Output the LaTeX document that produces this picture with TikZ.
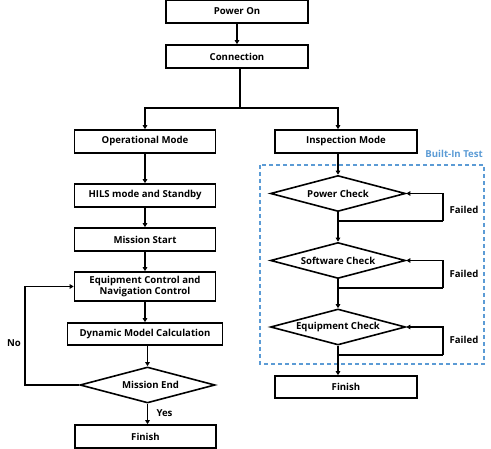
\documentclass[tikz,border=0pt]{standalone}
\usepackage{fontspec}
\setmainfont{Open Sans}
\usetikzlibrary{shapes.geometric,arrows.meta}
\definecolor{bitblue}{RGB}{91,155,213}
\begin{document}
\begin{tikzpicture}[x=1pt,y=-1pt,
  every node/.style={font=\bfseries\fontsize{9.6}{11.5}\selectfont},
  box/.style={draw,line width=1.6pt,minimum height=23pt,inner sep=0pt,align=center},
  dec/.style={draw,diamond,aspect=3.8,line width=1.6pt,minimum width=135pt,minimum height=36pt,inner sep=0pt},
  conn/.style={line width=1.6pt},
  arr/.style={conn,-{Triangle[length=4pt,width=4.5pt]}},
  lbl/.style={inner sep=0pt}]
\useasboundingbox (0,0) rectangle (491,449);
% main column
\node[box,minimum width=142pt] (pon) at (237,11.5) {Power On};
\node[box,minimum width=142pt] (con) at (237,56.5) {Connection};
\coordinate (split) at (240,108);
% left column
\node[box,minimum width=141pt] (op) at (145,141.5) {Operational Mode};
\node[box,minimum width=141pt] (hils) at (145,195.5) {HILS mode and Standby};
\node[box,minimum width=141pt] (ms) at (145,239.5) {Mission Start};
\node[box,minimum width=141pt,minimum height=29pt] (eq) at (145,286.5) {Equipment Control and\\Navigation Control};
\node[box,minimum width=155pt,minimum height=22pt] (dyn) at (145,334) {Dynamic Model Calculation};
\node[dec] (me) at (147.5,385) {\hspace*{6pt}Mission End};
\node[box,minimum width=141pt] (fl) at (145.5,436.5) {Finish};
\coordinate (nl) at (25,385);
% right column
\node[box,minimum width=142pt] (insp) at (346,141.5) {Inspection Mode};
\node[dec] (pc) at (338,193.5) {Power Check};
\node[dec] (sc) at (338,260.5) {Software Check};
\node[dec] (ec) at (338,327) {Equipment Check};
\node[box,minimum width=142pt,minimum height=22pt] (fr) at (346,387) {Finish};
\coordinate (pcj) at (338,221);
\coordinate (pcr) at (443,221);
\coordinate (scj) at (338,288);
\coordinate (scr) at (443,288);
\coordinate (ecj) at (338,355);
\coordinate (ecr) at (443,355);
% built-in test box
\draw[bitblue,line width=1.5pt,dash pattern=on 4pt off 3pt] (260,165) rectangle (484,364);
\node[lbl,text=bitblue,anchor=east] (bit) at (483,153.5) {Built-In Test};
% connectors
\draw[arr] (pon) -- (con);
\draw[conn] (con.south -| split) -- (split);
\draw[arr] (split) -| (op.north);
\draw[arr] (split) -| (pc.north |- insp.north);
\draw[arr] (op) -- (hils);
\draw[arr] (hils) -- (ms);
\draw[arr] (ms) -- (eq);
\draw[arr] (eq) -- (dyn);
\draw[arr] (dyn.south -| me.north) -- (me.north);
\draw[arr] (me.south) -- (me.south |- fl.north);
\draw[arr] (me.west) -- (nl) |- (eq.west);
\draw[arr] (insp.south -| pc.north) -- (pc.north);
\draw[arr] (pc.south) -- (sc.north);
\draw[arr] (sc.south) -- (ec.north);
\draw[arr] (ec.south) -- (ec.south |- fr.north);
\draw[conn] (pcj) -- (pcr);
\draw[arr] (pcr) |- (pc.east);
\draw[conn] (scj) -- (scr);
\draw[arr] (scr) |- (sc.east);
\draw[conn] (ecj) -- (ecr);
\draw[arr] (ecr) |- (ec.east);
% labels
\node[lbl] (f1) at (464,210) {Failed};
\node[lbl] (f2) at (464,274) {Failed};
\node[lbl] (f3) at (464,340) {Failed};
\node[lbl] (no) at (14,343) {No};
\node[lbl] (yes) at (164.5,413) {Yes};
\end{tikzpicture}
\end{document}
